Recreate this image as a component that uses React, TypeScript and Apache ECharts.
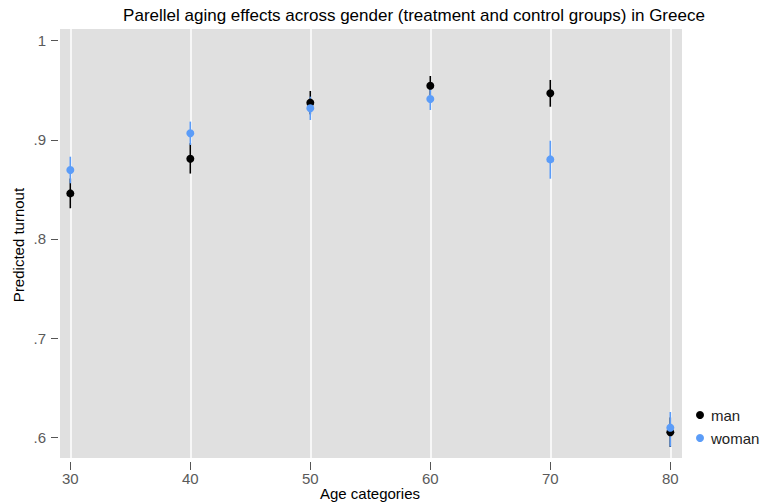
import React, { useEffect, useRef } from "react";
import * as echarts from "echarts";

const ages = [30, 40, 50, 60, 70, 80];
const manMean = [0.846, 0.881, 0.9375, 0.9546, 0.947, 0.605];
const manLo = [0.831, 0.866, 0.9257, 0.9448, 0.9334, 0.5902];
const manHi = [0.861, 0.8965, 0.9493, 0.9644, 0.9604, 0.62];
const womanMean = [0.8696, 0.9066, 0.9318, 0.9412, 0.8803, 0.6097];
const womanLo = [0.8562, 0.8948, 0.92, 0.9301, 0.8608, 0.5905];
const womanHi = [0.883, 0.9184, 0.9436, 0.9523, 0.8991, 0.6255];
const yTicks = [0.6, 0.7, 0.8, 0.9, 1];
const xTicks = [30, 40, 50, 60, 70, 80];

const FONT = "'Liberation Sans', Arial, sans-serif";
const MAN_COLOR = "#000000";
const WOMAN_COLOR = "#5b9cf8";

function errorSeries(name: string, lo: number[], hi: number[], color: string) {
  return {
    name,
    type: "custom",
    z: 3,
    data: ages.map((a, i) => [a, lo[i], hi[i]]),
    encode: { x: 0, y: [1, 2] },
    renderItem: (_params: any, api: any) => {
      const x = api.value(0);
      const p1 = api.coord([x, api.value(1)]);
      const p2 = api.coord([x, api.value(2)]);
      return {
        type: "line",
        shape: { x1: p1[0], y1: p1[1], x2: p2[0], y2: p2[1] },
        style: { stroke: color, lineWidth: 1.6 },
      };
    },
  };
}

export default function App() {
  const ref = useRef<HTMLDivElement>(null);
  useEffect(() => {
    if (!ref.current) return;
    const chart = echarts.init(ref.current, null, { renderer: "svg" });
    chart.setOption({
      animation: false,
      backgroundColor: "#ffffff",
      textStyle: { fontFamily: FONT },
      grid: {
        left: 60,
        right: 82,
        top: 29,
        bottom: 46,
        show: true,
        backgroundColor: "#e0e0e0",
        borderWidth: 0,
      },
      xAxis: {
        type: "value",
        min: 29.14,
        max: 80.975,
        offset: 4,
        axisLine: { show: false },
        axisTick: {
          show: true,
          length: 8,
          customValues: xTicks,
          lineStyle: { color: "#555", width: 1 },
        },
        axisLabel: {
          customValues: xTicks,
          margin: 9,
          fontSize: 15,
          color: "#5a5a5a",
          fontFamily: FONT,
        },
        splitLine: { show: false },
      },
      yAxis: {
        type: "value",
        min: 0.5791,
        max: 1.0118,
        offset: 2,
        axisLine: { show: false },
        axisTick: {
          show: true,
          length: 7,
          customValues: yTicks,
          lineStyle: { color: "#555", width: 1 },
        },
        axisLabel: {
          customValues: yTicks,
          margin: 12,
          fontSize: 15,
          color: "#5a5a5a",
          fontFamily: FONT,
          formatter: (v: number) => {
            const r = Math.round(v * 10) / 10;
            return r === 1 ? "1" : String(r).replace(/^0/, "");
          },
        },
        splitLine: { show: false },
      },
      legend: {
        data: [
          { name: "man", icon: "circle" },
          { name: "woman", icon: "circle" },
        ],
        orient: "vertical",
        left: 696,
        top: 407,
        padding: 0,
        itemWidth: 8,
        itemHeight: 8,
        itemGap: 7,
        textStyle: { fontSize: 15, color: "#222", fontFamily: FONT, lineHeight: 16, padding: [0, 0, 0, 2] },
      },
      graphic: [
        {
          type: "text",
          x: 414,
          y: 15,
          style: {
            text: "Parellel aging effects across gender (treatment and control groups) in Greece",
            fontSize: 17,
            fontFamily: FONT,
            fill: "#000",
            textAlign: "center",
            textVerticalAlign: "middle",
          },
        },
        {
          type: "text",
          x: 18,
          y: 245,
          rotation: Math.PI / 2,
          style: {
            text: "Predicted turnout",
            fontSize: 15,
            fontFamily: FONT,
            fill: "#000",
            textAlign: "center",
            textVerticalAlign: "middle",
          },
        },
        {
          type: "text",
          x: 370,
          y: 493,
          style: {
            text: "Age categories",
            fontSize: 15,
            fontFamily: FONT,
            fill: "#000",
            textAlign: "center",
            textVerticalAlign: "middle",
          },
        },
      ],
      series: [
        {
          name: "grid",
          type: "scatter",
          data: [],
          z: 1,
          silent: true,
          markLine: {
            silent: true,
            z: 1,
            symbol: "none",
            label: { show: false },
            lineStyle: { color: "#ffffff", width: 1.5, type: "solid" },
            data: xTicks.map((t) => ({ xAxis: t })),
          },
        },
        errorSeries("manCI", manLo, manHi, MAN_COLOR),
        {
          name: "man",
          type: "scatter",
          z: 4,
          symbol: "circle",
          symbolSize: 8,
          itemStyle: { color: MAN_COLOR, opacity: 1 },
          data: ages.map((a, i) => [a, manMean[i]]),
        },
        errorSeries("womanCI", womanLo, womanHi, WOMAN_COLOR),
        {
          name: "woman",
          type: "scatter",
          z: 4,
          symbol: "circle",
          symbolSize: 8,
          itemStyle: { color: WOMAN_COLOR, opacity: 1 },
          data: ages.map((a, i) => [a, womanMean[i]]),
        },
      ],
    });
    return () => chart.dispose();
  }, []);
  return (
    <div
      ref={ref}
      style={{ position: "fixed", left: 0, top: 0, width: 764, height: 504 }}
    />
  );
}
